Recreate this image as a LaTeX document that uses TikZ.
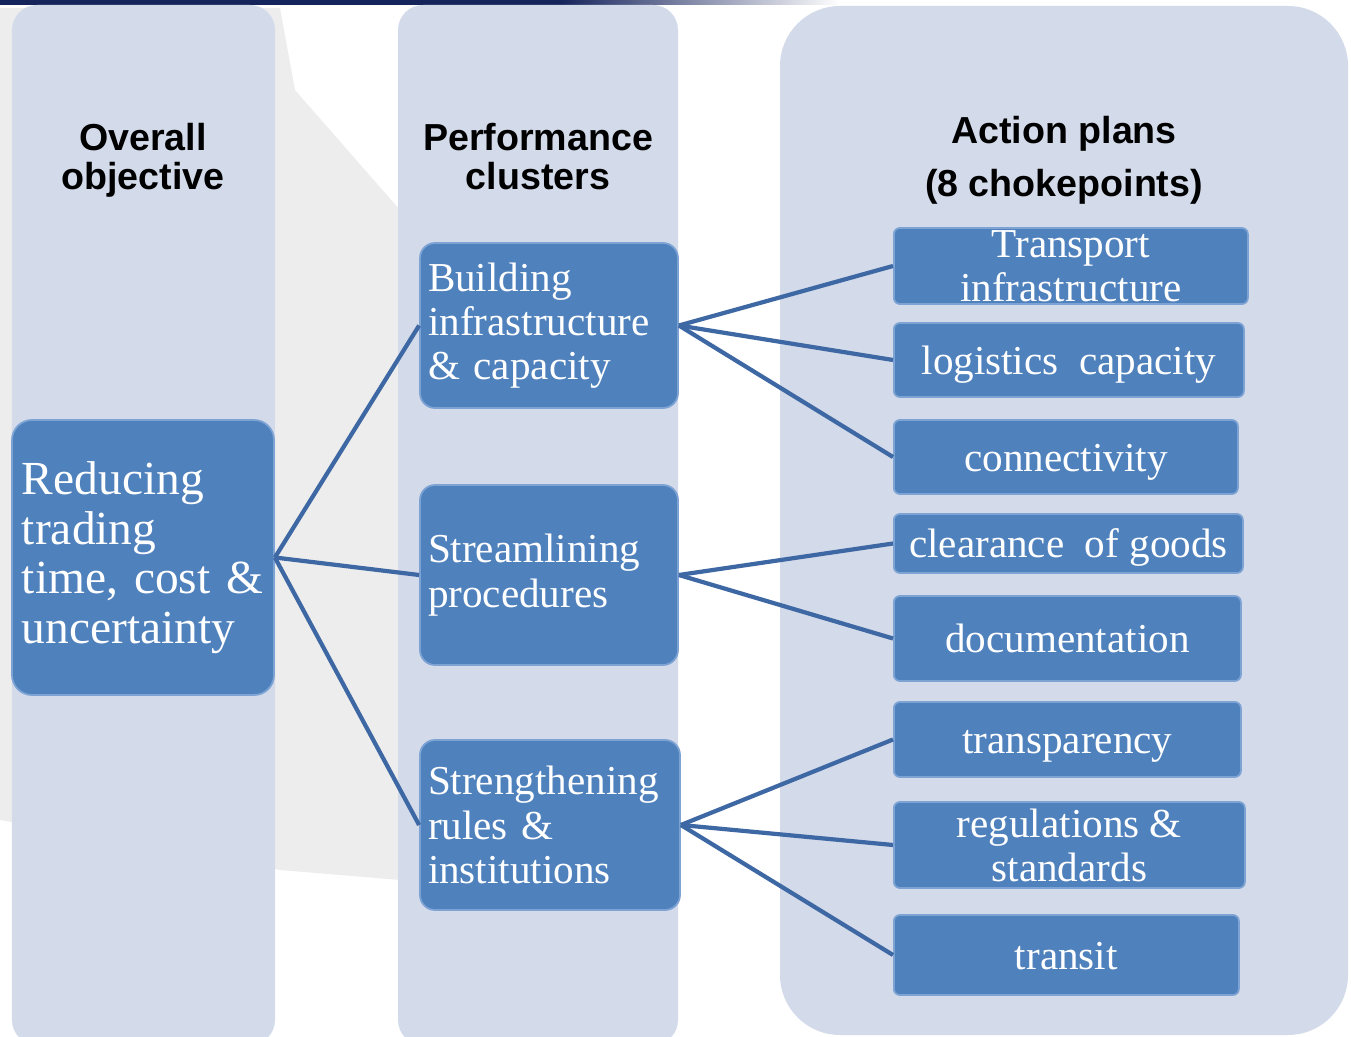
\documentclass[tikz,border=0pt]{standalone}
\usepackage{fontspec}
\setmainfont{Liberation Serif}
\newfontfamily\headfont{Liberation Sans}
\usepackage{tikz}

\definecolor{colbg}{RGB}{211,218,233}
\definecolor{boxblue}{RGB}{79,129,189}
\definecolor{boxedge}{RGB}{125,163,212}
\definecolor{linkblue}{RGB}{62,104,164}
\definecolor{navybar}{RGB}{22,36,92}
\definecolor{bggrey}{RGB}{237,237,237}

\begin{document}
\begin{tikzpicture}[
		column/.style={fill=colbg, rounded corners=0.25cm},
		head/.style={font=\headfont\bfseries\fontsize{10.7}{11.1}\selectfont, align=center},
		boxtext/.style={fill=boxblue, draw=boxedge, line width=0.5pt, text=white},
		goalbox/.style={boxtext, rounded corners=0.2cm, inner xsep=0.1cm, inner ysep=0pt, text width=2.42cm, align=left, minimum height=2.75cm, font=\fontsize{13.5}{14.1}\selectfont},
		cluster/.style={boxtext, rounded corners=0.15cm, inner xsep=0.08cm, inner ysep=0pt, text width=2.42cm, align=left, font=\fontsize{11.7}{12.6}\selectfont},
		plan/.style={boxtext, rounded corners=0.06cm, inner sep=0pt, align=center, anchor=west, font=\fontsize{11.7}{12.5}\selectfont},
		oneline/.style={text height=8pt, text depth=0pt},
		link/.style={draw=linkblue, line width=1.2pt}
	]
	\useasboundingbox (0,0) rectangle (13.51,-10.37);
	
	% backdrop
	\fill[bggrey] (0,-0.08) -- (2.8,-0.08) -- (2.95,-0.9) -- (4.0,-2.1) -- (4.0,-8.8) -- (2.8,-8.7) -- (0,-8.2) -- cycle;
	\fill[navybar] (0,0) rectangle (5.6,-0.05);
	\shade[left color=navybar, right color=white] (5.6,0) rectangle (8.4,-0.05);
	
	% columns
	\fill[column] (0.12,-0.05) rectangle (2.75,-10.45);
	\fill[column] (3.98,-0.05) rectangle (6.78,-10.45);
	\fill[column, rounded corners=0.6cm] (7.80,-0.06) rectangle (13.48,-10.35);
	
	\node[head] (hgoal) at (1.43,-1.605) {Overall\\objective};
	\node[head] (hcluster) at (5.38,-1.565) {Performance\\clusters};
	\node[head, font=\headfont\bfseries\fontsize{10.7}{15}\selectfont] (hplan) at (10.64,-1.605) {Action plans\\(8 chokepoints)};
	
	% objective and clusters
	\node[goalbox] (goal) at (1.43,-5.575) {Reducing\\trading\\time, cost \&\\uncertainty};
	\node[cluster, minimum height=1.65cm] (build) at (5.49,-3.255) {Building\\infrastructure\\\& capacity};
	\node[cluster, minimum height=1.80cm] (stream) at (5.49,-5.75) {Streamlining\\procedures};
	\node[cluster, minimum height=1.70cm, text width=2.44cm] (strength) at (5.50,-8.25) {Strengthening\\rules \&\\institutions};
	
	% action plans
	\node[plan, minimum width=3.54cm, minimum height=0.76cm] (transport) at (8.93,-2.66) {Transport\\infrastructure};
	\node[plan, oneline, minimum width=3.50cm, minimum height=0.74cm] (logistics) at (8.93,-3.60) {logistics~~capacity};
	\node[plan, oneline, minimum width=3.44cm, minimum height=0.74cm] (connect) at (8.93,-4.57) {connectivity};
	\node[plan, oneline, minimum width=3.49cm, minimum height=0.59cm] (clearance) at (8.93,-5.435) {clearance~~of goods};
	\node[plan, oneline, minimum width=3.47cm, minimum height=0.85cm] (docs) at (8.93,-6.385) {documentation};
	\node[plan, oneline, minimum width=3.47cm, minimum height=0.75cm] (transp) at (8.93,-7.395) {transparency};
	\node[plan, minimum width=3.51cm, minimum height=0.86cm] (regul) at (8.93,-8.45) {regulations \&\\standards};
	\node[plan, oneline, minimum width=3.45cm, minimum height=0.80cm] (transit) at (8.93,-9.55) {transit};
	
	% links
	\draw[link] (goal.east) -- (build.west);
	\draw[link] (goal.east) -- (stream.west);
	\draw[link] (goal.east) -- (strength.west);
	
	\draw[link] (build.east) -- (transport.west);
	\draw[link] (build.east) -- (logistics.west);
	\draw[link] (build.east) -- (connect.west);
	
	\draw[link] (stream.east) -- (clearance.west);
	\draw[link] (stream.east) -- (docs.west);
	
	\draw[link] (strength.east) -- (transp.west);
	\draw[link] (strength.east) -- (regul.west);
	\draw[link] (strength.east) -- (transit.west);
\end{tikzpicture}
\end{document}
